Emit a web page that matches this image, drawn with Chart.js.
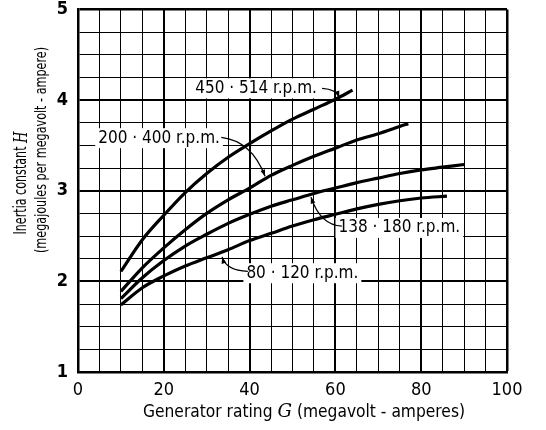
<!DOCTYPE html>
<html>
<head>
<meta charset="utf-8">
<script src="https://cdn.jsdelivr.net/npm/chart.js@4/dist/chart.umd.min.js"></script>
<style>
  html, body { margin: 0; padding: 0; background: #fff; }
  #wrap { width: 546px; height: 430px; }
</style>
</head>
<body>
<div id="wrap"><canvas id="c" width="546" height="430"></canvas></div>
<script>
// ── Data ─────────────────────────────────────────────────────────
const g450 = [10, 15, 20, 25, 30, 35, 40, 45, 50, 55, 60, 64];
const h450 = [2.11, 2.46, 2.73, 2.98, 3.19, 3.37, 3.52, 3.66, 3.79, 3.9, 4.01, 4.11];

const g200 = [10, 15, 20, 25, 30, 35, 40, 45, 50, 55, 60, 65, 70, 75, 77];
const h200 = [1.89, 2.15, 2.37, 2.57, 2.75, 2.9, 3.03, 3.17, 3.28, 3.38, 3.47, 3.56, 3.63, 3.71, 3.74];

const g138 = [10, 15, 20, 25, 30, 35, 40, 45, 50, 55, 60, 65, 70, 75, 80, 85, 90];
const h138 = [1.81, 2.04, 2.23, 2.39, 2.52, 2.64, 2.74, 2.83, 2.9, 2.97, 3.03, 3.09, 3.14, 3.19, 3.23, 3.26, 3.29];

const g80 = [10, 15, 20, 25, 30, 35, 40, 45, 50, 55, 60, 65, 70, 75, 80, 86];
const h80 = [1.74, 1.93, 2.06, 2.17, 2.26, 2.35, 2.45, 2.53, 2.61, 2.68, 2.74, 2.8, 2.85, 2.89, 2.92, 2.94];

const xTicks = [0, 20, 40, 60, 80, 100];
const yTicks = [1, 2, 3, 4, 5];

const FONT = '"DejaVu Sans Condensed", "Liberation Sans", sans-serif';

const pts = (gs, hs) => gs.map((g, i) => ({ x: g, y: hs[i] }));

const curve = (label, gs, hs) => ({
  label,
  data: pts(gs, hs),
  borderColor: '#000',
  borderWidth: 3.2,
  pointRadius: 0,
  cubicInterpolationMode: 'monotone',
  fill: false,
});

// ── Labels, leaders and axis titles ──────────────────────────────
const notes = [
  { text: '450 · 514 r.p.m.', at: [41.5, 4.13], from: [56.9, 4.13], ctrl: [60.2, 4.12], to: [60.9, 4.03] },
  { text: '200 · 400 r.p.m.', at: [18.9, 3.58], from: [33.4, 3.59], ctrl: [40.5, 3.55], to: [43.6, 3.16] },
  { text: '138 · 180 r.p.m.', at: [74.9, 2.59], from: [61.5, 2.61], ctrl: [56.5, 2.62], to: [54.3, 2.93] },
  { text: '80 · 120 r.p.m.', at: [52.3, 2.09], from: [39.6, 2.11], ctrl: [34.5, 2.12], to: [33.6, 2.27] },
];

function arrowHead(ctx, x0, y0, x1, y1) {
  const a = Math.atan2(y1 - y0, x1 - x0);
  const len = 7;
  ctx.beginPath();
  ctx.moveTo(x1, y1);
  ctx.lineTo(x1 - len * Math.cos(a - 0.35), y1 - len * Math.sin(a - 0.35));
  ctx.lineTo(x1 - len * Math.cos(a + 0.35), y1 - len * Math.sin(a + 0.35));
  ctx.closePath();
  ctx.fill();
}

// draws text runs centred on (cx, cy), squeezed sideways to span `span` px
function drawPieces(ctx, pieces, cx, cy, span) {
  let total = 0;
  pieces.forEach(p => { ctx.font = p.font; p.w = ctx.measureText(p.t).width; total += p.w; });
  const k = span ? span / total : 1;
  ctx.save();
  ctx.translate(cx, cy);
  ctx.scale(k, 1);
  let x = -total / 2;
  ctx.textBaseline = 'middle';
  ctx.textAlign = 'left';
  pieces.forEach(p => { ctx.font = p.font; ctx.fillText(p.t, x, 0); x += p.w; });
  ctx.restore();
}

const extras = {
  id: 'extras',
  afterDraw(chart) {
    const { ctx, scales: { x, y } } = chart;
    ctx.save();
    ctx.fillStyle = '#000';
    ctx.strokeStyle = '#000';

    notes.forEach(n => {
      ctx.font = '17px ' + FONT;
      const w = ctx.measureText(n.text).width;
      const px = x.getPixelForValue(n.at[0]);
      const py = y.getPixelForValue(n.at[1]);
      ctx.fillStyle = '#fff';
      ctx.fillRect(px - w / 2 - 3, py - 10, w + 6, 20);
      ctx.fillStyle = '#000';
      ctx.textAlign = 'center';
      ctx.textBaseline = 'middle';
      ctx.fillText(n.text, px, py);

      const fx = x.getPixelForValue(n.from[0]), fy = y.getPixelForValue(n.from[1]);
      const cx = x.getPixelForValue(n.ctrl[0]), cy = y.getPixelForValue(n.ctrl[1]);
      const tx = x.getPixelForValue(n.to[0]), ty = y.getPixelForValue(n.to[1]);
      ctx.lineWidth = 1.3;
      ctx.beginPath();
      ctx.moveTo(fx, fy);
      ctx.quadraticCurveTo(cx, cy, tx, ty);
      ctx.stroke();
      arrowHead(ctx, cx, cy, tx, ty);
    });

    // x axis title
    drawPieces(ctx, [
      { t: 'Generator rating ', font: '18px ' + FONT },
      { t: 'G', font: 'italic 19px "DejaVu Serif", serif' },
      { t: ' (megavolt - amperes)', font: '18px ' + FONT },
    ], 304, 412, 322);

    // y axis title, two lines
    ctx.save();
    ctx.translate(22, 183);
    ctx.rotate(-Math.PI / 2);
    drawPieces(ctx, [
      { t: 'Inertia constant ', font: '17px ' + FONT },
      { t: 'H', font: 'italic 18px "DejaVu Serif", serif' },
    ], 0, 0, 103);
    ctx.restore();

    ctx.save();
    ctx.translate(42, 150);
    ctx.rotate(-Math.PI / 2);
    drawPieces(ctx, [
      { t: '(megajoules per megavolt - ampere)', font: '15px ' + FONT },
    ], 0, 0, 206);
    ctx.restore();

    ctx.restore();
  }
};

new Chart(document.getElementById('c'), {
  type: 'line',
  data: {
    datasets: [
      curve('450-514 r.p.m.', g450, h450),
      curve('200-400 r.p.m.', g200, h200),
      curve('138-180 r.p.m.', g138, h138),
      curve('80-120 r.p.m.', g80, h80),
    ],
  },
  options: {
    responsive: false,
    animation: false,
    layout: { padding: { top: 9.5, right: 39, left: 0, bottom: 0 } },
    plugins: { legend: { display: false }, tooltip: { enabled: false } },
    scales: {
      x: {
        type: 'linear',
        min: 0,
        max: 100,
        afterFit: (s) => { s.height = 58; s.paddingLeft = 0; s.paddingRight = 0; },
        ticks: {
          stepSize: 5,
          autoSkip: false,
          maxRotation: 0,
          padding: 8,
          color: '#000',
          font: { family: FONT, size: 18 },
          callback: (v) => xTicks.includes(v) ? String(v) : '',
        },
        grid: {
          color: '#000',
          drawTicks: false,
          lineWidth: (c) => (c.tick && (c.tick.value === 100)) ? 2.5 : (c.tick && c.tick.value % 20 === 0 ? 2 : 1),
        },
        border: { color: '#000', width: 2.5 },
      },
      y: {
        type: 'linear',
        min: 1,
        max: 5,
        afterFit: (s) => { s.width = 78; s.paddingTop = 0; s.paddingBottom = 0; },
        ticks: {
          stepSize: 0.25,
          autoSkip: false,
          padding: 10,
          color: '#000',
          font: { family: FONT, size: 18, weight: 'bold' },
          callback: (v) => yTicks.includes(v) ? String(v) : '',
        },
        grid: {
          color: '#000',
          drawTicks: false,
          lineWidth: (c) => (c.tick && c.tick.value === 5) ? 2.5 : (c.tick && c.tick.value % 1 === 0 ? 2 : 1),
        },
        border: { color: '#000', width: 2.5 },
      },
    },
  },
  plugins: [extras],
});
</script>
</body>
</html>
